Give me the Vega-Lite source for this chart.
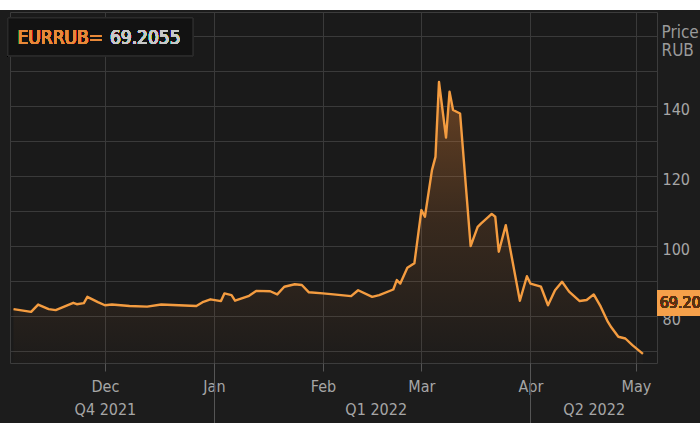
{
  "$schema": "https://vega.github.io/schema/vega-lite/v6.json",
  "width": 647,
  "height": 351,
  "autosize": {"type": "none"},
  "padding": {"left": 10, "top": 12, "right": 43, "bottom": 60},
  "background": "#1c1c1c",
  "config": {
    "view": {"fill": "#1a1a1a", "stroke": "#3c3c3c", "strokeWidth": 1},
    "font": "Liberation Sans Narrow, DejaVu Sans Condensed, Roboto, sans-serif",
    "axis": {
      "labelFont": "Liberation Sans Narrow, DejaVu Sans Condensed, Roboto, sans-serif",
      "titleFont": "Liberation Sans Narrow, DejaVu Sans Condensed, Roboto, sans-serif",
      "labelColor": "#a6a6a6",
      "labelFontSize": 16,
      "gridColor": "#3a3a3a",
      "gridWidth": 1,
      "domain": false,
      "labelOverlap": false,
      "labelFlush": false,
      "labelBound": false
    }
  },
  "data": {
    "values": [
      {"date": "2021-11-05", "price": 82.0},
      {"date": "2021-11-10", "price": 81.2},
      {"date": "2021-11-12", "price": 83.3},
      {"date": "2021-11-15", "price": 82.0},
      {"date": "2021-11-17", "price": 81.7},
      {"date": "2021-11-22", "price": 83.8},
      {"date": "2021-11-23", "price": 83.4},
      {"date": "2021-11-25", "price": 83.7},
      {"date": "2021-11-26", "price": 85.5},
      {"date": "2021-11-29", "price": 84.0},
      {"date": "2021-12-01", "price": 83.1},
      {"date": "2021-12-03", "price": 83.3},
      {"date": "2021-12-08", "price": 82.9},
      {"date": "2021-12-13", "price": 82.7},
      {"date": "2021-12-17", "price": 83.3},
      {"date": "2021-12-22", "price": 83.1},
      {"date": "2021-12-27", "price": 82.9},
      {"date": "2021-12-29", "price": 84.1},
      {"date": "2021-12-31", "price": 84.8},
      {"date": "2022-01-03", "price": 84.3},
      {"date": "2022-01-04", "price": 86.5},
      {"date": "2022-01-06", "price": 86.0},
      {"date": "2022-01-07", "price": 84.4},
      {"date": "2022-01-11", "price": 85.8},
      {"date": "2022-01-13", "price": 87.2},
      {"date": "2022-01-17", "price": 87.1},
      {"date": "2022-01-19", "price": 86.2},
      {"date": "2022-01-21", "price": 88.4},
      {"date": "2022-01-24", "price": 89.1},
      {"date": "2022-01-26", "price": 88.9},
      {"date": "2022-01-28", "price": 86.8},
      {"date": "2022-02-01", "price": 86.5},
      {"date": "2022-02-04", "price": 86.2},
      {"date": "2022-02-09", "price": 85.7},
      {"date": "2022-02-11", "price": 87.4},
      {"date": "2022-02-15", "price": 85.5},
      {"date": "2022-02-17", "price": 86.0},
      {"date": "2022-02-21", "price": 87.6},
      {"date": "2022-02-22", "price": 90.3},
      {"date": "2022-02-23", "price": 89.3},
      {"date": "2022-02-25", "price": 93.8},
      {"date": "2022-02-27", "price": 95.1},
      {"date": "2022-03-01", "price": 110.3},
      {"date": "2022-03-02", "price": 108.4},
      {"date": "2022-03-04", "price": 121.7},
      {"date": "2022-03-05", "price": 125.5},
      {"date": "2022-03-06", "price": 146.9},
      {"date": "2022-03-08", "price": 131.0},
      {"date": "2022-03-09", "price": 144.1},
      {"date": "2022-03-10", "price": 138.9},
      {"date": "2022-03-12", "price": 137.9},
      {"date": "2022-03-15", "price": 100.0},
      {"date": "2022-03-17", "price": 105.5},
      {"date": "2022-03-18", "price": 106.5},
      {"date": "2022-03-21", "price": 109.2},
      {"date": "2022-03-22", "price": 108.4},
      {"date": "2022-03-23", "price": 98.4},
      {"date": "2022-03-25", "price": 106.0},
      {"date": "2022-03-29", "price": 84.4},
      {"date": "2022-03-31", "price": 91.4},
      {"date": "2022-04-01", "price": 89.3},
      {"date": "2022-04-04", "price": 88.4},
      {"date": "2022-04-06", "price": 83.1},
      {"date": "2022-04-08", "price": 87.4},
      {"date": "2022-04-10", "price": 89.8},
      {"date": "2022-04-12", "price": 87.0},
      {"date": "2022-04-15", "price": 84.3},
      {"date": "2022-04-17", "price": 84.6},
      {"date": "2022-04-19", "price": 86.2},
      {"date": "2022-04-21", "price": 82.7},
      {"date": "2022-04-23", "price": 78.4},
      {"date": "2022-04-24", "price": 76.8},
      {"date": "2022-04-26", "price": 74.1},
      {"date": "2022-04-28", "price": 73.6},
      {"date": "2022-04-30", "price": 71.7},
      {"date": "2022-05-03", "price": 69.2055}
    ]
  },
  "resolve": {"scale": {"x": "shared", "y": "shared"}, "axis": {"x": "independent", "y": "independent"}},
  "layer": [
    {
      "mark": {"type": "area", "interpolate": "linear",
        "fill": {"gradient": "linear", "x1": 0, "y1": 0, "x2": 0, "y2": 1,
          "stops": [{"offset": 0, "color": "rgba(230,130,50,0.38)"}, {"offset": 0.5, "color": "rgba(230,130,50,0.15)"}, {"offset": 1, "color": "rgba(230,130,50,0.01)"}]}},
      "encoding": {
        "x": {"field": "date", "type": "temporal",
          "scale": {"type": "utc", "domain": [{"year": 2021, "month": 11, "date": 4, "utc": true}, {"year": 2022, "month": 5, "date": 7, "utc": true}]},
          "axis": {
            "orient": "bottom",
            "title": null,
            "values": [
              {"year": 2021, "month": 12, "date": 1, "utc": true},
              {"year": 2022, "month": 1, "date": 1, "utc": true},
              {"year": 2022, "month": 2, "date": 1, "utc": true},
              {"year": 2022, "month": 3, "date": 1, "utc": true},
              {"year": 2022, "month": 4, "date": 1, "utc": true},
              {"year": 2022, "month": 5, "date": 1, "utc": true}
            ],
            "labelExpr": "utcFormat(datum.value, '%b')",
            "grid": true,
            "tickColor": "#555555",
            "tickSize": 8,
            "labelPadding": 7
          }
        },
        "y": {"field": "price", "type": "quantitative", "stack": null,
          "scale": {"domain": [66.6, 166.9], "nice": false, "zero": false},
          "axis": null
        }
      }
    },
    {
      "mark": {"type": "line", "color": "#f49c40", "strokeWidth": 2.4, "strokeJoin": "round"},
      "encoding": {
        "x": {"field": "date", "type": "temporal",
          "axis": {
            "orient": "bottom",
            "title": null,
            "grid": false,
            "values": [
              {"year": 2021, "month": 12, "date": 1, "utc": true},
              {"year": 2022, "month": 1, "date": 1, "utc": true},
              {"year": 2022, "month": 2, "date": 16, "utc": true},
              {"year": 2022, "month": 4, "date": 1, "utc": true},
              {"year": 2022, "month": 4, "date": 19, "utc": true}
            ],
            "labelExpr": "utcmonth(datum.value) == 11 ? 'Q4 2021' : utcmonth(datum.value) == 1 ? 'Q1 2022' : (utcmonth(datum.value) == 3 && utcdate(datum.value) > 1) ? 'Q2 2022' : ''",
            "tickSize": 60,
            "tickColor": "#555555",
            "tickOpacity": {"condition": {"test": "utcdate(datum.value) == 1 && (utcmonth(datum.value) == 0 || utcmonth(datum.value) == 3)", "value": 1}, "value": 0},
            "labelPadding": -22
          }
        },
        "y": {"field": "price", "type": "quantitative",
          "axis": {
            "orient": "right",
            "values": [70, 80, 90, 100, 110, 120, 130, 140, 150, 160],
            "labelExpr": "datum.value >= 80 && datum.value <= 140 && datum.value % 20 == 0 ? datum.label : ''",
            "grid": true,
            "ticks": false,
            "labelPadding": 5,
            "labelOffset": 3,
            "labelAlign": "left",
            "title": ["Price", "RUB"],
            "titleAngle": 0,
            "titleAlign": "left",
            "titleBaseline": "top",
            "titleX": 4,
            "titleY": 12,
            "titleColor": "#9a9a9a",
            "titleFontSize": 17,
            "titleFontWeight": "normal",
            "titleLineHeight": 18
          }
        }
      }
    },
    {
      "mark": {"type": "rect", "fill": "#121212", "stroke": "#2e2e2e", "strokeWidth": 1},
      "encoding": {
        "x": {"datum": {"year": 2021, "month": 11, "date": 3, "hours": 10, "utc": true}, "type": "temporal", "axis": null},
        "x2": {"datum": {"year": 2021, "month": 12, "date": 26, "utc": true}},
        "y": {"datum": 165.2, "type": "quantitative", "axis": null},
        "y2": {"datum": 154.4}
      }
    },
    {
      "mark": {"type": "text", "text": "EURRUB=", "align": "right", "baseline": "middle", "color": "#e8893a", "fontSize": 19},
      "encoding": {
        "x": {"datum": {"year": 2021, "month": 11, "date": 30, "hours": 12, "utc": true}, "type": "temporal", "axis": null},
        "y": {"datum": 159.6, "type": "quantitative", "axis": null}
      }
    },
    {
      "mark": {"type": "text", "text": "69.2055", "align": "left", "baseline": "middle", "color": "#c8c8c8", "fontSize": 19},
      "encoding": {
        "x": {"datum": {"year": 2021, "month": 12, "date": 2, "hours": 10, "utc": true}, "type": "temporal", "axis": null},
        "y": {"datum": 159.6, "type": "quantitative", "axis": null}
      }
    },
    {
      "mark": {"type": "rect", "fill": "#f5a04a"},
      "encoding": {
        "x": {"datum": {"year": 2022, "month": 5, "date": 7, "utc": true}, "type": "temporal", "axis": null},
        "x2": {"datum": {"year": 2022, "month": 6, "date": 5, "utc": true}},
        "y": {"datum": 87.4, "type": "quantitative", "axis": null},
        "y2": {"datum": 80.0}
      }
    },
    {
      "mark": {"type": "text", "text": "69.2055", "align": "left", "baseline": "middle", "color": "#5a3210", "fontSize": 16},
      "encoding": {
        "x": {"datum": {"year": 2022, "month": 5, "date": 7, "hours": 18, "utc": true}, "type": "temporal", "axis": null},
        "y": {"datum": 83.7, "type": "quantitative", "axis": null}
      }
    },
    {
      "mark": {"type": "rect", "fill": "#ffffff"},
      "encoding": {
        "x": {"datum": {"year": 2021, "month": 10, "date": 20, "utc": true}, "type": "temporal", "axis": null},
        "x2": {"datum": {"year": 2022, "month": 6, "date": 10, "utc": true}},
        "y": {"datum": 167.5, "type": "quantitative", "axis": null},
        "y2": {"datum": 176}
      }
    }
  ]
}
